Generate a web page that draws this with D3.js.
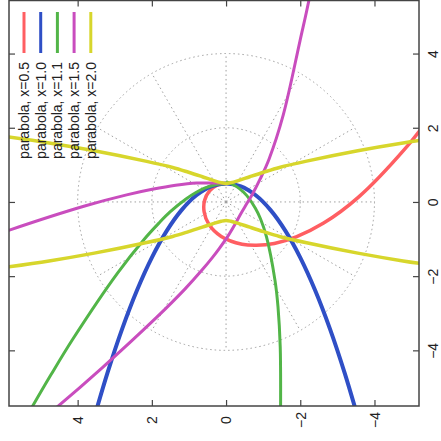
<!DOCTYPE html>
<head>
<style type="text/css">
  body { margin: 0; background: #fff; }
  text { font-family: "Liberation Sans", Arial, sans-serif; }
</style>
</head>
<body>
<meta charset="utf-8">
<div id="my_dataviz"></div>
<script src="https://d3js.org/d3.v7.min.js"></script>
<script>

// legend labels
var names = ["parabola, x=0.5", "parabola, x=1.0", "parabola, x=1.1", "parabola, x=1.5", "parabola, x=2.0"];

// points as [bottom axis value, right axis value]; null breaks a branch
var curveX05 = [[0,0.5],[0.24,0.45],[0.45,0.29],[0.58,0.04],[0.59,-0.27],[0.46,-0.61],[0.13,-0.93],
  [-0.43,-1.14],[-0.82,-1.17],[-1.3,-1.12],[-1.89,-0.94],[-2.63,-0.57],[-3.57,0.13],[-4.82,1.43],
  [-5.45,2.23],[-6.17,3.27]];

var curveX10 = [[3.55,-5.8],[3.2,-4.62],[2.8,-3.42],[2.4,-2.38],[2.0,-1.5],[1.6,-0.78],[1.2,-0.22],
  [0.8,0.18],[0.4,0.42],[0,0.5],[-0.4,0.42],[-0.8,0.18],[-1.2,-0.22],[-1.6,-0.78],[-2.0,-1.5],
  [-2.4,-2.38],[-2.8,-3.42],[-3.2,-4.62],[-3.55,-5.8]];

var curveX11 = [[0,0.5],[0.26,0.47],[0.58,0.37],[0.8,0.26],[1.08,0.08],[1.51,-0.27],[1.81,-0.57],
  [2.21,-1.01],[2.92,-1.91],[4.12,-3.68],[4.72,-4.66],[5.5,-6.0],
  null,
  [-1.46,-6.88],[-1.47,-5.55],[-1.46,-3.91],[-1.4,-2.83],[-1.32,-2.12],[-1.09,-0.94],[-0.93,-0.46],
  [-0.79,-0.17],[-0.56,0.17],[-0.36,0.36],[-0.14,0.49],[0,0.55]];

var curveX15 = [[0,0.5],[0.28,0.51],[0.48,0.51],[0.79,0.51],[1.36,0.45],[1.99,0.34],[2.68,0.19],
  [3.81,-0.11],[5.84,-0.76],[7.54,-1.37],
  null,
  [6.55,-7.15],[4.64,-5.6],[3.34,-4.47],[1.88,-3.12],[1.11,-2.35],[0.66,-1.85],[0.37,-1.5],
  [0.18,-1.25],[-0.05,-0.92],[-0.23,-0.62],[-0.39,-0.33],[-0.52,-0.11],[-0.71,0.21],[-0.92,0.62],
  [-1.16,1.16],[-1.54,2.34],[-1.99,4.33],[-2.27,5.62],[-2.59,7.54]];

var curveX20 = [[6.73,1.87],[4.77,1.59],[3.55,1.38],[2.17,1.1],[1.44,0.93],[1.01,0.8],[0.64,0.68],
  [0.31,0.57],[0.13,0.52],[0,0.5],[-0.13,0.52],[-0.31,0.57],[-0.64,0.68],[-1.01,0.8],[-1.44,0.93],
  [-2.17,1.1],[-3.55,1.38],[-4.77,1.59],[-6.73,1.87],
  null,
  [6.73,-1.87],[4.77,-1.59],[3.55,-1.38],[2.17,-1.1],[1.44,-0.93],[1.01,-0.8],[0.64,-0.68],
  [0.31,-0.57],[0.13,-0.52],[0,-0.5],[-0.13,-0.52],[-0.31,-0.57],[-0.64,-0.68],[-1.01,-0.8],
  [-1.44,-0.93],[-2.17,-1.1],[-3.55,-1.38],[-4.77,-1.59],[-6.73,-1.87]];

var tickValues = [4, 2, 0, -2, -4];
var gridRadii = [2, 4];
var gridAngles = [0, 30, 60, 90, 120, 150, 180, 210, 240, 270, 300, 330];

var series = [curveX05, curveX10, curveX11, curveX15, curveX20];
var colors = ["#ff5e62", "#2f4fc6", "#52b548", "#c94dbe", "#d7d62c"];
var widths = [3.5, 4, 3, 3, 3.5];

var W = 441, H = 441;
var frame = {left: 9, right: 419, top: 0.5, bottom: 406};

var svg = d3.select("#my_dataviz")
  .append("svg")
    .attr("width", W)
    .attr("height", H);

var x = d3.scaleLinear().domain([5.85, -5.2]).range([frame.left, frame.right]);
var y = d3.scaleLinear().domain([5.43, -5.5]).range([frame.top, frame.bottom]);

svg.append("clipPath").attr("id", "clip")
  .append("rect")
    .attr("x", frame.left).attr("y", frame.top)
    .attr("width", frame.right - frame.left)
    .attr("height", frame.bottom - frame.top);

// polar grid
var grid = svg.append("g")
  .attr("fill", "none")
  .attr("stroke", "#a0a0a0")
  .attr("stroke-width", 1)
  .attr("stroke-dasharray", "1.5,3");

grid.selectAll("circle")
  .data(gridRadii)
  .enter()
  .append("circle")
    .attr("cx", x(0))
    .attr("cy", y(0))
    .attr("r", function(d) { return x(0) - x(d); });

var rMax = d3.max(gridRadii);
grid.selectAll("line")
  .data(gridAngles)
  .enter()
  .append("line")
    .attr("x1", x(0))
    .attr("y1", y(0))
    .attr("x2", function(d) { return x(-rMax * Math.cos(d * Math.PI / 180)); })
    .attr("y2", function(d) { return y(rMax * Math.sin(d * Math.PI / 180)); });

// axes: labelled bottom and right, mirrored ticks top and left
function styleAxis(g) {
  g.select(".domain").remove();
  g.selectAll(".tick line").attr("stroke", "#444").attr("stroke-width", 1.2);
}

svg.append("g")
  .attr("transform", "translate(0," + frame.bottom + ")")
  .call(d3.axisBottom(x).tickValues(tickValues).tickSizeInner(-6).tickSizeOuter(0))
  .call(styleAxis)
  .selectAll("text")
    .attr("x", 0).attr("y", 0).attr("dy", "0.35em")
    .attr("text-anchor", "middle")
    .attr("transform", "translate(0,14) rotate(-90)")
    .attr("fill", "#222")
    .style("font-size", "14px");

svg.append("g")
  .attr("transform", "translate(" + frame.right + ",0)")
  .call(d3.axisRight(y).tickValues(tickValues).tickSizeInner(-6).tickSizeOuter(0))
  .call(styleAxis)
  .selectAll("text")
    .attr("x", 0).attr("y", 0).attr("dy", "0.35em")
    .attr("text-anchor", "middle")
    .attr("transform", "translate(14,0) rotate(-90)")
    .attr("fill", "#222")
    .style("font-size", "14px");

svg.append("g")
  .attr("transform", "translate(0," + frame.top + ")")
  .call(d3.axisTop(x).tickValues(tickValues).tickSizeInner(-6).tickSizeOuter(0).tickFormat(""))
  .call(styleAxis);

svg.append("g")
  .attr("transform", "translate(" + frame.left + ",0)")
  .call(d3.axisLeft(y).tickValues(tickValues).tickSizeInner(-6).tickSizeOuter(0).tickFormat(""))
  .call(styleAxis);

// curves
var line = d3.line()
  .defined(function(d) { return d !== null; })
  .x(function(d) { return x(d[0]); })
  .y(function(d) { return y(d[1]); })
  .curve(d3.curveCatmullRom.alpha(0.5));

svg.append("g")
  .attr("clip-path", "url(#clip)")
  .selectAll("path")
  .data(series)
  .enter()
  .append("path")
    .attr("fill", "none")
    .attr("stroke", function(d, i) { return colors[i]; })
    .attr("stroke-width", function(d, i) { return widths[i]; })
    .attr("stroke-linejoin", "round")
    .attr("d", line);

// frame
svg.append("rect")
  .attr("x", frame.left).attr("y", frame.top)
  .attr("width", frame.right - frame.left)
  .attr("height", frame.bottom - frame.top)
  .attr("fill", "none")
  .attr("stroke", "#444")
  .attr("stroke-width", 1.5);

// legend, rotated like the rest of the page
var legend = svg.append("g");
var entry = legend.selectAll("g")
  .data(names)
  .enter()
  .append("g")
    .attr("transform", function(d, i) { return "translate(" + (24 + 16.7 * i) + ",0)"; });

entry.append("line")
  .attr("x1", 0).attr("x2", 0)
  .attr("y1", 12).attr("y2", 53)
  .attr("stroke", function(d, i) { return colors[i]; })
  .attr("stroke-width", 3);

entry.append("text")
  .attr("transform", "translate(0,62) rotate(-90)")
  .attr("text-anchor", "end")
  .attr("dy", "0.35em")
  .attr("fill", "#222")
  .style("font-size", "14px")
  .text(function(d) { return d; });

</script>
</body>
